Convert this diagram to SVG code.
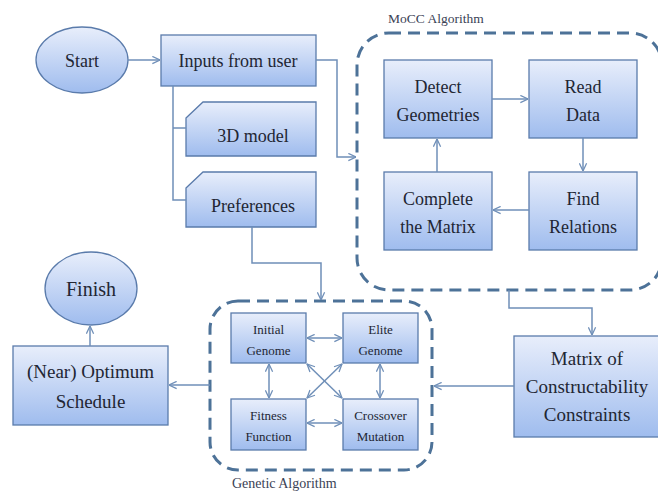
<svg xmlns="http://www.w3.org/2000/svg" width="658" height="491" viewBox="0 0 658 491" font-family="'Liberation Serif', 'DejaVu Serif', 'Times New Roman', serif">
<defs>
<linearGradient id="g" x1="0" y1="0" x2="0" y2="1">
<stop offset="0" stop-color="#e8eefb"/>
<stop offset="1" stop-color="#9fbcee"/>
</linearGradient>
<marker id="a" viewBox="0 0 10 10" refX="9.5" refY="5" markerWidth="9" markerHeight="9" markerUnits="userSpaceOnUse" orient="auto-start-reverse">
<path d="M1,1 L9.5,5 L1,9" fill="none" stroke="#6f8fb8" stroke-width="1.4"/>
</marker>
<style>
text{font-family:'Liberation Serif','DejaVu Serif','Times New Roman',serif}
.n{fill:url(#g);stroke:#5a7bab;stroke-width:1.3}
.t{fill:#222633;text-anchor:middle}
.l{font-size:18px}
.s{font-size:13px}
.c{fill:none;stroke:#6f8fb8;stroke-width:1.5}
.d{fill:none;stroke:#4d7298;stroke-width:3;stroke-dasharray:12 7}
.lab{fill:#3a4255;font-size:13.5px}
</style>
</defs>
<rect width="658" height="491" fill="#ffffff"/>

<g id="mocc-group">
<rect class="d" x="357" y="33" width="305" height="257" rx="32"/>
<text class="lab" x="388" y="23">MoCC Algorithm</text>
</g>
<g id="ga-group">
<rect class="d" x="210" y="301" width="222" height="169" rx="28"/>
<text class="lab" x="232" y="488" style="font-size:14px">Genetic Algorithm</text>
</g>

<g id="start">
<ellipse class="n" cx="82" cy="60" rx="46" ry="33"/>
<text class="t l" x="82" y="67">Start</text>
</g>
<g id="inputs">
<rect class="n" x="161" y="35" width="155" height="51"/>
<text class="t l" x="238" y="67">Inputs from user</text>
</g>
<g id="model3d">
<path class="n" d="M186,118 L203,102 L316,102 L316,156 L186,156 Z"/>
<text class="t l" x="253" y="142">3D model</text>
</g>
<g id="preferences">
<path class="n" d="M186,188 L203,172 L316,172 L316,227 L186,227 Z"/>
<text class="t l" x="253" y="212">Preferences</text>
</g>

<g id="detect">
<rect class="n" x="384" y="60" width="108" height="78"/>
<text class="t l" x="438" y="93">Detect</text>
<text class="t l" x="438" y="121">Geometries</text>
</g>
<g id="read">
<rect class="n" x="529" y="60" width="108" height="78"/>
<text class="t l" x="583" y="93">Read</text>
<text class="t l" x="583" y="121">Data</text>
</g>
<g id="complete">
<rect class="n" x="384" y="172" width="108" height="78"/>
<text class="t l" x="438" y="205">Complete</text>
<text class="t l" x="438" y="233">the Matrix</text>
</g>
<g id="find">
<rect class="n" x="529" y="172" width="108" height="78"/>
<text class="t l" x="583" y="205">Find</text>
<text class="t l" x="583" y="233">Relations</text>
</g>

<g id="matrix">
<rect class="n" x="514" y="336" width="146" height="101"/>
<text class="t l" x="587" y="365" style="font-size:19px">Matrix of</text>
<text class="t l" x="587" y="393" style="font-size:19px">Constructability</text>
<text class="t l" x="587" y="421" style="font-size:19px">Constraints</text>
</g>

<g id="initial">
<rect class="n" x="231" y="313" width="75" height="50"/>
<text class="t s" x="268.5" y="334">Initial</text>
<text class="t s" x="268.5" y="355">Genome</text>
</g>
<g id="elite">
<rect class="n" x="343" y="313" width="75" height="50"/>
<text class="t s" x="380.5" y="334">Elite</text>
<text class="t s" x="380.5" y="355">Genome</text>
</g>
<g id="fitness">
<rect class="n" x="231" y="399" width="75" height="51"/>
<text class="t s" x="268.5" y="420">Fitness</text>
<text class="t s" x="268.5" y="441">Function</text>
</g>
<g id="crossover">
<rect class="n" x="343" y="399" width="75" height="51"/>
<text class="t s" x="380.5" y="420">Crossover</text>
<text class="t s" x="380.5" y="441">Mutation</text>
</g>

<g id="optimum">
<rect class="n" x="13" y="346" width="155" height="79"/>
<text class="t l" x="90.5" y="378" style="font-size:19px">(Near) Optimum</text>
<text class="t l" x="90.5" y="408" style="font-size:19px">Schedule</text>
</g>
<g id="finish">
<ellipse class="n" cx="91" cy="288.5" rx="46" ry="36.5"/>
<text class="t l" x="91" y="296" style="font-size:20px">Finish</text>
</g>

<g id="connectors">
<path class="c" d="M128,60 H160" marker-end="url(#a)"/>
<path class="c" d="M173,86 V200 H186 M173,128 H186"/>
<path class="c" d="M316,60 H337 V157 H356" marker-end="url(#a)"/>
<path class="c" d="M492,99 H528" marker-end="url(#a)"/>
<path class="c" d="M583,138 V171" marker-end="url(#a)"/>
<path class="c" d="M529,210 H493" marker-end="url(#a)"/>
<path class="c" d="M437,172 V139" marker-end="url(#a)"/>
<path class="c" d="M509,290 V308 H592 V335" marker-end="url(#a)"/>
<path class="c" d="M252,227 V263 H321 V300" marker-end="url(#a)"/>
<path class="c" d="M514,386 H434" marker-end="url(#a)"/>
<path class="c" d="M210,385 H169" marker-end="url(#a)"/>
<path class="c" d="M90,346 V326" marker-end="url(#a)"/>
<path class="c" d="M307,338 H342" marker-start="url(#a)" marker-end="url(#a)"/>
<path class="c" d="M307,423 H342" marker-start="url(#a)" marker-end="url(#a)"/>
<path class="c" d="M269,364 V398" marker-start="url(#a)" marker-end="url(#a)"/>
<path class="c" d="M380,364 V398" marker-start="url(#a)" marker-end="url(#a)"/>
<path class="c" d="M307,364 L342,398" marker-start="url(#a)" marker-end="url(#a)"/>
<path class="c" d="M342,364 L307,398" marker-start="url(#a)" marker-end="url(#a)"/>
</g>
</svg>
